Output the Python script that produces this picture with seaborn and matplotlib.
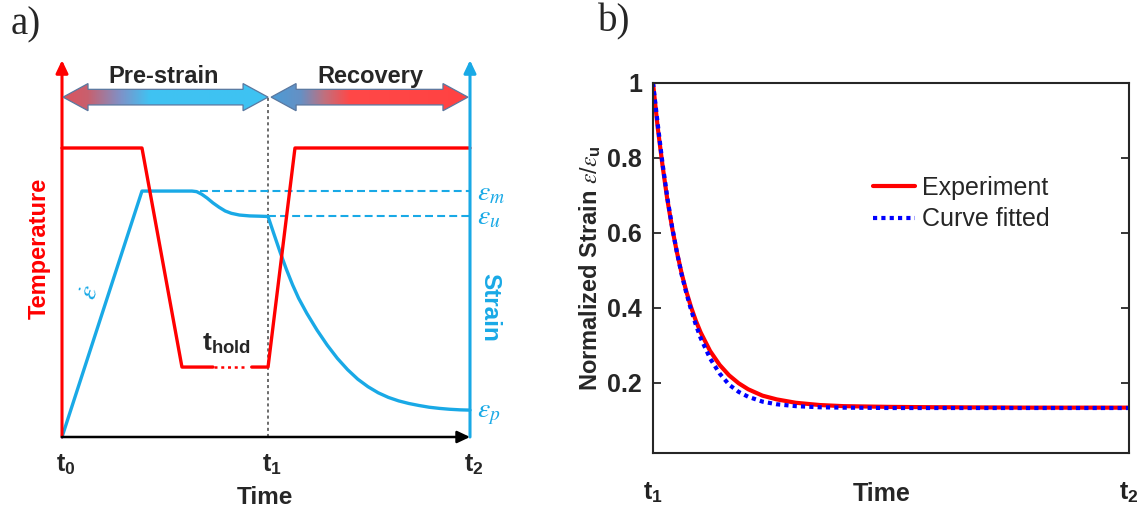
import numpy as np
import matplotlib
matplotlib.use("Agg")
import matplotlib.pyplot as plt
import seaborn as sns
from matplotlib.patches import Polygon, FancyArrowPatch
from matplotlib.colors import LinearSegmentedColormap

sns.set_style("white")
plt.rcParams["font.family"] = ["Liberation Sans", "DejaVu Sans"]
plt.rcParams["mathtext.fontset"] = "custom"
plt.rcParams["mathtext.rm"] = "Liberation Sans"
plt.rcParams["mathtext.it"] = "STIXGeneral:italic"
plt.rcParams["mathtext.bf"] = "Liberation Sans:bold"

# ---------------- data: panel a (schematic) ----------------
time_ticks = [0.0, 1.01, 2.0]
time_tick_labels = [r"$\mathbf{t}_{\mathbf{0}}$", r"$\mathbf{t}_{\mathbf{1}}$", r"$\mathbf{t}_{\mathbf{2}}$"]

temp_time_a = [0.0, 0.392, 0.588, 0.740]
temp_level_a = [1.0, 1.0, 0.242, 0.242]
temp_time_b = [0.93, 1.01, 1.142, 2.0]
temp_level_b = [0.242, 0.242, 1.0, 1.0]
hold_time = [0.745, 0.905]
hold_level = [0.242, 0.242]

strain_time = [0.0, 0.392, 0.637, 0.660, 0.685, 0.711, 0.740, 0.770, 0.800, 0.830, 0.870,
               0.920, 0.970, 1.01,
               1.04, 1.07, 1.10, 1.13, 1.16, 1.20, 1.25, 1.30, 1.35, 1.40, 1.45, 1.50,
               1.55, 1.60, 1.65, 1.70, 1.75, 1.80, 1.85, 1.90, 1.95, 2.0]
strain_value = [0.0, 0.851, 0.851, 0.849, 0.840, 0.827, 0.810, 0.795, 0.782, 0.774, 0.768,
                0.765, 0.764, 0.763,
                0.700, 0.638, 0.580, 0.527, 0.480, 0.428, 0.370, 0.318, 0.272, 0.233, 0.200, 0.174,
                0.153, 0.137, 0.125, 0.116, 0.109, 0.103, 0.099, 0.096, 0.094, 0.093]
eps_m, eps_u, eps_p = 0.851, 0.763, 0.093
eps_m_start = 0.676

# ---------------- data: panel b ----------------
exp_time = [0.0, 0.01, 0.02, 0.03, 0.04, 0.05, 0.06, 0.07, 0.08, 0.09, 0.10, 0.12, 0.14,
            0.16, 0.18, 0.20, 0.23, 0.26, 0.30, 0.35, 0.40, 0.50, 0.60, 0.80, 1.0]
exp_strain = [1.0, 0.88, 0.78, 0.69, 0.615, 0.55, 0.493, 0.444, 0.402, 0.366, 0.335, 0.285, 0.248,
              0.220, 0.199, 0.183, 0.166, 0.156, 0.147, 0.141, 0.138, 0.136, 0.135, 0.134, 0.134]
fit_time = [0.0, 0.01, 0.02, 0.03, 0.04, 0.05, 0.06, 0.07, 0.08, 0.09, 0.10, 0.12, 0.14,
            0.16, 0.18, 0.20, 0.23, 0.26, 0.30, 0.35, 0.40, 0.50, 0.60, 0.80, 1.0]
fit_strain = [1.0, 0.89, 0.785, 0.695, 0.617, 0.55, 0.49, 0.44, 0.395, 0.355, 0.32, 0.265, 0.225,
              0.195, 0.176, 0.163, 0.150, 0.143, 0.138, 0.135, 0.134, 0.133, 0.133, 0.133, 0.133]
y_ticks = [0.2, 0.4, 0.6, 0.8, 1.0]
y_tick_labels = ["0.2", "0.4", "0.6", "0.8", "1"]
x_ticks_b = [0.0, 1.0]
x_tick_labels_b = [r"$\mathbf{t}_{\mathbf{1}}$", r"$\mathbf{t}_{\mathbf{2}}$"]

RED = "#FF0000"
BLUE = "#19A9E6"

W, H = 1141, 518
fig = plt.figure(figsize=(W / 100, H / 100), dpi=100)

# ---------------- panel a ----------------
x0px, x_per = 62, 204
y0px, y_per = 437, 289
xl = (-0.1, 2.1)
yl = (-0.05, 1.35)
ax1 = fig.add_axes([(x0px + xl[0] * x_per) / W,
                    1 - (y0px - yl[0] * y_per) / H,
                    (xl[1] - xl[0]) * x_per / W,
                    (yl[1] - yl[0]) * y_per / H])

# axes arrows
ax1.add_patch(FancyArrowPatch((0, 0), (0, 1.304), arrowstyle="-|>,head_length=0.38,head_width=0.18",
                              mutation_scale=20, color=RED, lw=2.2, shrinkA=0, shrinkB=0, zorder=4))
ax1.add_patch(FancyArrowPatch((2.0, 0), (2.0, 1.304), arrowstyle="-|>,head_length=0.38,head_width=0.18",
                              mutation_scale=20, color=BLUE, lw=2.2, shrinkA=0, shrinkB=0, zorder=4))
ax1.add_patch(FancyArrowPatch((0, 0), (2.0, 0), arrowstyle="-|>,head_length=0.38,head_width=0.18",
                              mutation_scale=20, color="black", lw=1.8, shrinkA=0, shrinkB=0, zorder=5))

# t1 dotted marker
ax1.plot([time_ticks[1], time_ticks[1]], [0, 1.176], color="#444444", lw=1.1, ls=(0, (2, 2)), zorder=1)

# strain profile
sns.lineplot(x=strain_time, y=strain_value, ax=ax1, color=BLUE, lw=2.4, sort=False, zorder=2)
ax1.plot([eps_m_start, 2.0], [eps_m, eps_m], color=BLUE, lw=1.5, ls=(0, (3.8, 2)), zorder=2)
ax1.plot([time_ticks[1], 2.0], [eps_u, eps_u], color=BLUE, lw=1.5, ls=(0, (3.8, 2)), zorder=2)

# temperature profile
sns.lineplot(x=temp_time_a, y=temp_level_a, ax=ax1, color=RED, lw=2.4, sort=False, zorder=3)
sns.lineplot(x=temp_time_b, y=temp_level_b, ax=ax1, color=RED, lw=2.4, sort=False, zorder=3)
ax1.plot(hold_time, hold_level, color=RED, lw=1.8, ls=(0, (1.2, 1.5)), zorder=3)


def grad_arrow(ax, xa, xb, yc, stops):
    hl, hw, sw = 0.1225, 0.047, 0.027
    verts = [(xa, yc), (xa + hl, yc + hw), (xa + hl, yc + sw), (xb - hl, yc + sw),
             (xb - hl, yc + hw), (xb, yc), (xb - hl, yc - hw), (xb - hl, yc - sw),
             (xa + hl, yc - sw), (xa + hl, yc - hw)]
    poly = Polygon(verts, closed=True, facecolor="none", edgecolor="#5A78A0", lw=0.9, zorder=6)
    ax.add_patch(poly)
    cmap = LinearSegmentedColormap.from_list("g", stops)
    grad = np.linspace(0, 1, 256).reshape(1, -1)
    im = ax.imshow(grad, cmap=cmap, extent=[xa, xb, yc - hw, yc + hw], aspect="auto",
                   origin="lower", zorder=5, interpolation="bilinear")
    im.set_clip_path(poly)


grad_arrow(ax1, 0.005, 1.01, 1.176,
           [(0.0, "#DC545E"), (0.12, "#C8606E"), (0.28, "#7E92C8"), (0.42, "#40C2F2"), (1.0, "#3EC3F2")])
grad_arrow(ax1, 1.025, 1.99, 1.176,
           [(0.0, "#4B9CD6"), (0.15, "#6690C4"), (0.27, "#C0707E"), (0.40, "#FF4848"), (1.0, "#FF4242")])

ax1.set_xlim(xl)
ax1.set_ylim(yl)
ax1.axis("off")

ax1.text(0.50, 1.249, "Pre-strain", fontsize=17, fontweight="bold", ha="center", va="center")
ax1.text(1.512, 1.249, "Recovery", fontsize=17, fontweight="bold", ha="center", va="center")
ax1.text(-0.11, 0.654, "Temperature", fontsize=17, fontweight="bold", color=RED,
         rotation=90, ha="center", va="center")
ax1.text(2.098, 0.45, "Strain", fontsize=17.5, fontweight="bold", color=BLUE,
         rotation=-90, ha="center", va="center")
for tt, lab in zip(time_ticks, time_tick_labels):
    ax1.text(tt + 0.02, -0.055, lab, fontsize=18, ha="center", va="top")
ax1.text(0.995, -0.208, "Time", fontsize=17.5, fontweight="bold", ha="center", va="center")
ax1.text(0.804, 0.30, r"$\mathbf{t}_{\mathbf{hold}}$", fontsize=19, ha="center", va="baseline")
ax1.text(2.034, 0.817, r"$\varepsilon_m$", fontsize=20, color=BLUE, ha="left", va="baseline")
ax1.text(2.034, 0.734, r"$\varepsilon_u$", fontsize=20, color=BLUE, ha="left", va="baseline")
ax1.text(2.034, 0.069, r"$\varepsilon_p$", fontsize=20, color=BLUE, ha="left", va="baseline")
ax1.text(0.14, 0.50, r"$\dot{\varepsilon}$", fontsize=20, color=BLUE, rotation=72,
         ha="center", va="center")
fig.text(26 / W, 1 - 25 / H, "a)", fontsize=28, family="Liberation Serif", ha="center", va="center")

# ---------------- panel b ----------------
bl, br, bt, bb = 653, 1129, 83, 453
ax2 = fig.add_axes([bl / W, 1 - bb / H, (br - bl) / W, (bb - bt) / H])
sns.lineplot(x=exp_time, y=exp_strain, ax=ax2, color=RED, lw=3.0, label="Experiment")
sns.lineplot(x=fit_time, y=fit_strain, ax=ax2, color="#0000FF", lw=3.0,
             linestyle=(0, (1, 1)), dash_capstyle="butt", label="Curve fitted")
ax2.set_xlim(0, 1)
ax2.set_ylim(0.013, 1.0)
ax2.set_yticks(y_ticks)
ax2.set_yticklabels(y_tick_labels)
ax2.set_xticks(x_ticks_b)
ax2.set_xticklabels(x_tick_labels_b)
ax2.tick_params(axis="y", direction="in", length=6, width=1.3, left=True, right=True,
                labelsize=18, pad=8, colors="#262626")
ax2.tick_params(axis="x", length=0, pad=20, labelsize=18, labelcolor="#222222")
for lbl in ax2.get_yticklabels():
    lbl.set_fontweight("bold")
for sp in ax2.spines.values():
    sp.set_visible(True)
    sp.set_color("#262626")
    sp.set_linewidth(1.5)
ax2.set_xlabel("Time", fontsize=18, fontweight="bold")
ax2.xaxis.set_label_coords(0.481, -0.078)
ax2.set_ylabel(r"Normalized Strain $\epsilon/\epsilon_{\mathbf{u}}$", fontsize=17, fontweight="bold")
ax2.yaxis.set_label_coords(-0.105, 0.5)
h, l = ax2.get_legend_handles_labels()
ax2.legend(h, l, loc="center left", bbox_to_anchor=(0.462, 0.674), frameon=False, fontsize=18,
           handlelength=1.7, handletextpad=0.25, labelspacing=0.3, borderpad=0, borderaxespad=0)
fig.text(614 / W, 1 - 22 / H, "b)", fontsize=28, family="Liberation Serif", ha="center", va="center")

fig.savefig("out.png", dpi=100)
